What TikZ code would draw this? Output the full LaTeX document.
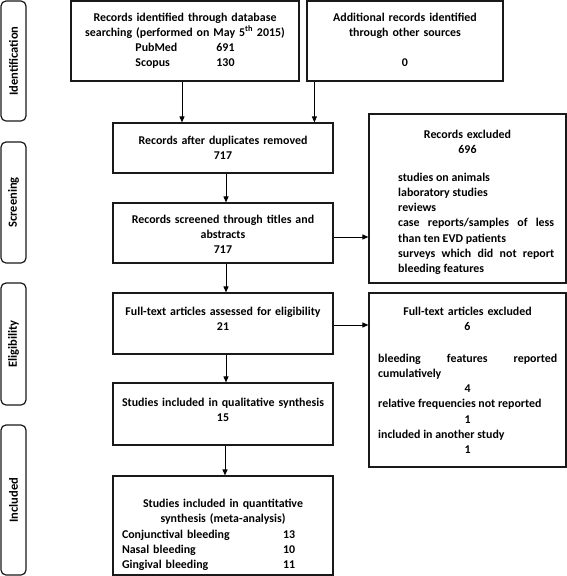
\documentclass[tikz,border=0pt]{standalone}
\usepackage{fontspec}
\setmainfont{Carlito}
\usetikzlibrary{arrows.meta,calc}
\setlength{\parindent}{0pt}
\hyphenpenalty=10000
\exhyphenpenalty=10000
\tolerance=10000
\begin{document}
\begin{tikzpicture}[x=1pt,y=-1pt,
  box/.style={draw=black!90, line width=1.2pt, inner sep=0pt},
  side/.style={draw=black!90, line width=1.2pt, rounded corners=5pt, inner sep=0pt, rotate=90,
    minimum height=25pt, font=\fontsize{12.5}{14}\selectfont\bfseries},
  txt/.style={font=\fontsize{11.9}{15.3}\selectfont\bfseries, inner sep=0pt, anchor=base},
  arr/.style={-{Triangle[length=6pt,width=5pt]}, line width=0.9pt}]
\useasboundingbox (0,0) rectangle (567,576);

% phase labels
\node[side, minimum width=120pt] (s1) at (13.5,61) {Identification};
\node[side, minimum width=121pt] (s2) at (13.5,202.5) {Screening};
\node[side, minimum width=122pt] (s3) at (13.5,344) {Eligibility};
\node[side, minimum width=150pt] (s4) at (13.5,500) {Included};

% boxes
\node[box, minimum width=228pt, minimum height=80pt] (b1) at (185,41) {};
\node[box, minimum width=196pt, minimum height=80pt] (b2) at (405,41) {};
\node[box, minimum width=220pt, minimum height=50pt] (dup) at (223,148) {};
\node[box, minimum width=220pt, minimum height=60pt] (scr) at (223,233) {};
\node[box, minimum width=197pt, minimum height=169pt] (rex) at (467.5,198.5) {};
\node[box, minimum width=220pt, minimum height=61pt] (fta) at (223,323.5) {};
\node[box, minimum width=197pt, minimum height=174pt] (fex) at (467.5,380) {};
\node[box, minimum width=220pt, minimum height=62pt] (qual) at (223,414) {};
\node[box, minimum width=220pt, minimum height=99pt] (quant) at (223,525.5) {};

% texts
\node[txt, text width=220pt, align=center] (t1) at (185,21)
  {Records identified through database\\ searching (performed on May 5\textsuperscript{th} 2015)\\
   \makebox[81pt][l]{PubMed}691\\ \makebox[81pt][l]{Scopus}130};
\node[txt, text width=190pt, align=center] (t2) at (405,21)
  {Additional records identified\\ through other sources\\ ~\\ 0};
\node[txt, text width=215pt, align=center] (t3) at (223,144)
  {Records after duplicates removed\\ 717};
\node[txt, text width=215pt, align=center] (t4) at (223,223)
  {Records screened through titles and\\ abstracts\\ 717};
\node[txt, text width=190pt, align=center] (t5) at (467.5,138.2)
  {Records excluded\\ 696};
\node[txt, text width=156pt, align=justify, anchor=base west] (t6) at (398,181)
  {studies on animals\par laboratory studies\par reviews\par
   case reports/samples of less than ten EVD patients\par
   surveys which did not report bleeding features\par};
\node[txt, text width=215pt, align=center] (t7) at (223,315)
  {Full-text articles assessed for eligibility\\ 21};
\node[txt, text width=190pt, align=center] (t8) at (467.5,315)
  {Full-text articles excluded\\ 6};
\node[txt, text width=179pt, align=justify, anchor=base west] (t9) at (378,362)
  {bleeding features reported cumulatively\par \centerline{4}%
   relative frequencies not reported\par \centerline{1}%
   included in another study\par \centerline{1}};
\node[txt, text width=215pt, align=center] (t10) at (223,406)
  {Studies included in qualitative synthesis\\ 15};
\node[txt, text width=202pt, align=center] (t11) at (223,507.5)
  {Studies included in quantitative\\ synthesis (meta-analysis)\\
   \makebox[202pt][l]{\makebox[161pt][l]{Conjunctival bleeding}13}\\
   \makebox[202pt][l]{\makebox[161pt][l]{Nasal bleeding}10}\\
   \makebox[202pt][l]{\makebox[161pt][l]{Gingival bleeding}11}};

% connectors
\draw[arr] ([xshift=-3pt]b1.south) -- ([xshift=-3pt]b1.south |- dup.north);
\draw[arr] ([xshift=8pt]b2.south west) -- ([xshift=8pt]b2.south west |- dup.north);
\draw[arr] ([xshift=3pt]dup.south) -- ([xshift=3pt]dup.south |- scr.north);
\draw[arr] ([xshift=3pt]scr.south) -- ([xshift=3pt]scr.south |- fta.north);
\draw[arr] ([xshift=3pt]fta.south) -- ([xshift=3pt]fta.south |- qual.north);
\draw[arr] ([xshift=2pt]qual.south) -- ([xshift=2pt]qual.south |- quant.north);
\draw[arr] ([yshift=-4pt]scr.east) -- ([yshift=-4pt]scr.east -| rex.west);
\draw[arr] ([yshift=-1.5pt]fta.east) -- ([yshift=-1.5pt]fta.east -| fex.west);
\end{tikzpicture}
\end{document}
